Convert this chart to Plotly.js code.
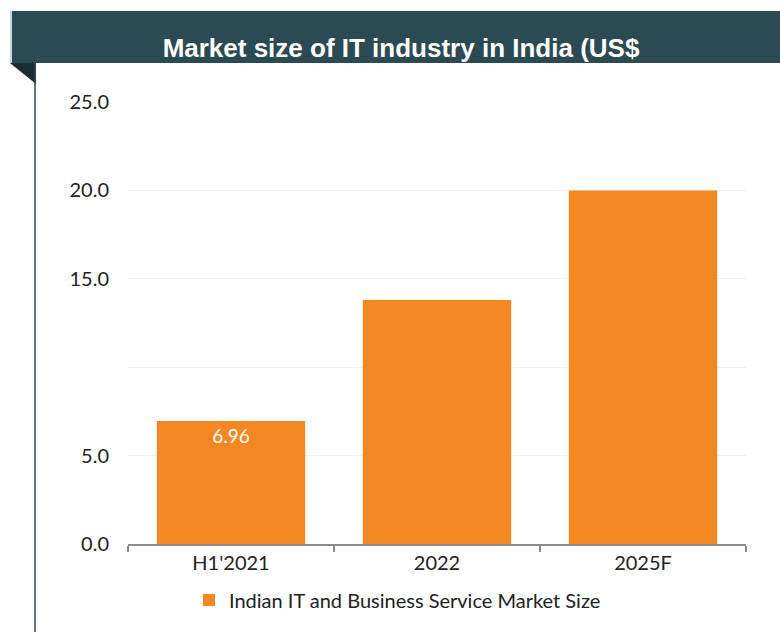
<!DOCTYPE html>
<html>
<head>
<meta charset="utf-8">
<script src="https://cdn.plot.ly/plotly-3.0.1.min.js"></script>
<style>html,body{margin:0;padding:0;background:#fff;}#chart{width:780px;height:632px;}</style>
</head>
<body>
<div id="chart"></div>
<script>
const categories = ["H1'2021", "2022", "2025F"];
const marketSize = [6.96, 13.8, 20.0];
const barLabels = ["6.96", "", ""];
const yTickVals = [0, 5, 10, 15, 20, 25];
const yTickText = ["0.0", "5.0", "", "15.0", "20.0", "25.0"];
const seriesName = "Indian IT and Business Service Market Size";
const chartTitle = "Market size of IT industry in India (US$";

// pixel -> paper helpers (plot area: x 128..746, y 102..544)
const L = 128, R = 746, T = 102, B = 544;
const px = x => (x - L) / (R - L);
const py = y => (B - y) / (B - T);

const trace = {
  type: 'bar',
  x: categories,
  y: marketSize,
  name: seriesName,
  text: barLabels,
  textposition: 'inside',
  insidetextanchor: 'end',
  textfont: {color: '#ffffff', size: 19, family: 'Lato, sans-serif'},
  marker: {color: '#F38721'},
  showlegend: true,
  hoverinfo: 'x+y'
};

const layout = {
  width: 780, height: 632,
  margin: {l: L, r: 780 - R, t: T, b: 632 - B},
  paper_bgcolor: '#ffffff', plot_bgcolor: '#ffffff',
  bargap: 0.28,
  font: {family: 'Lato, sans-serif', size: 20, color: '#222222'},
  title: {
    text: '<b>' + chartTitle + '</b>',
    x: 401 / 780, xanchor: 'center',
    y: 1 - 48 / 632, yanchor: 'middle',
    font: {family: 'Liberation Sans, Arial, sans-serif', size: 26, color: '#ffffff'}
  },
  xaxis: {
    type: 'category',
    showline: true, linecolor: '#8c8c8c', linewidth: 1.5,
    ticks: 'outside', tickson: 'boundaries', ticklen: 6, tickcolor: '#8c8c8c', tickwidth: 1.5,
    tickfont: {size: 20, color: '#222222'},
    showgrid: false, zeroline: false
  },
  yaxis: {
    range: [0, 25],
    tickvals: yTickVals, ticktext: yTickText,
    tickfont: {size: 20, color: '#222222'},
    ticks: '', ticklabelstandoff: 18,
    showgrid: true, gridcolor: '#f0f0f0', gridwidth: 1,
    zeroline: false, showline: false
  },
  legend: {
    orientation: 'h', x: px(189), xanchor: 'left', y: py(600), yanchor: 'middle',
    font: {size: 20, color: '#222222'}, itemwidth: 30
  },
  shapes: [
    {type: 'rect', xref: 'paper', yref: 'paper', x0: px(10), x1: px(780), y0: py(63), y1: py(11),
     fillcolor: '#2B4A53', line: {width: 0}, layer: 'above'},
    {type: 'rect', xref: 'paper', yref: 'paper', x0: px(10), x1: px(12), y0: py(63), y1: py(11),
     fillcolor: '#c9d3d6', line: {width: 0}, layer: 'above'},
    {type: 'path', xref: 'paper', yref: 'paper',
     path: `M ${px(10)} ${py(63)} L ${px(36)} ${py(63)} L ${px(36)} ${py(84)} Z`,
     fillcolor: '#1B2D33', line: {width: 0}, layer: 'above'},
    {type: 'line', xref: 'paper', yref: 'paper', x0: px(35), x1: px(35), y0: py(63), y1: py(632),
     line: {color: '#2B4A53', width: 1.5}, layer: 'above'}
  ]
};

Plotly.newPlot('chart', [trace], layout, {displayModeBar: false, staticPlot: true});
</script>
</body>
</html>
